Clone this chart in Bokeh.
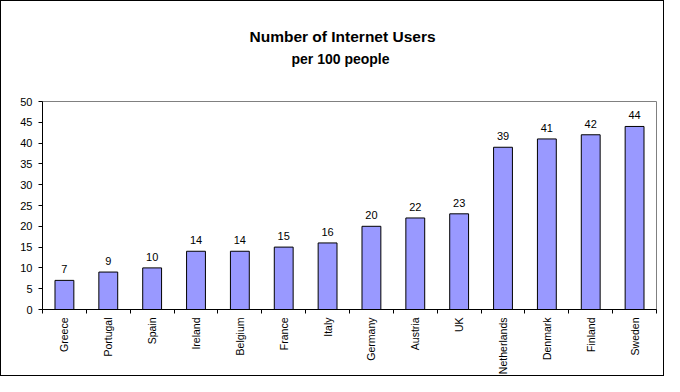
import math
from bokeh.plotting import figure
from bokeh.models import ColumnDataSource, FixedTicker, Range1d, Title, LinearAxis
from bokeh.core.properties import value
from bokeh.embed import file_html
from bokeh.resources import INLINE

countries = ["Greece", "Portugal", "Spain", "Ireland", "Belgium", "France", "Italy",
             "Germany", "Austria", "UK", "Netherlands", "Denmark", "Finland", "Sweden"]
users = [7, 9, 10, 14, 14, 15, 16, 20, 22, 23, 39, 41, 42, 44]
y_ticks = list(range(0, 55, 5))
title_text = "Number of Internet Users"
subtitle_text = "per 100 people"

FONT = "Liberation Sans"
n = len(countries)
centers = [i + 0.5 for i in range(n)]

src = ColumnDataSource(dict(x=centers, top=users, label=[str(v) for v in users]))

p = figure(width=664, height=376, output_backend="svg", toolbar_location=None,
           x_range=Range1d(0, n), y_range=Range1d(0, 50), title=None,
           min_border_left=41, min_border_right=9, min_border_top=100,
           min_border_bottom=66, x_axis_type=None, y_axis_type=None)
p.styles = {"border": "1px solid black", "box-sizing": "border-box"}
p.outline_line_color = "#808080"
p.outline_line_width = 1
p.background_fill_color = "white"
p.border_fill_color = "white"

# spacer between plot area and subtitle
p.add_layout(Title(text=" ", text_font=FONT, text_font_size="10px", standoff=18), "above")
p.add_layout(Title(text=subtitle_text, align="left", offset=249, text_font=FONT,
                   text_font_size="14px", text_font_style="bold",
                   text_color="black", standoff=8), "above")
p.add_layout(Title(text=title_text, align="left", offset=207, text_font=FONT,
                   text_font_size="15.5px", text_font_style="bold",
                   text_color="black", standoff=0), "above")

# y axis
yaxis = LinearAxis(ticker=FixedTicker(ticks=y_ticks))
yaxis.major_tick_in = 0
yaxis.major_tick_out = 4
yaxis.minor_tick_line_color = None
yaxis.major_label_text_font = FONT
yaxis.major_label_text_font_size = "11px"
yaxis.major_label_text_color = "black"
yaxis.major_label_standoff = 6
yaxis.axis_line_color = "black"
yaxis.major_tick_line_color = "black"
p.add_layout(yaxis, "left")

# x axis: labels at centres, ticks at category boundaries
xaxis = LinearAxis(ticker=FixedTicker(ticks=centers, minor_ticks=list(range(n + 1))))
xaxis.major_label_overrides = {c: name for c, name in zip(centers, countries)}
xaxis.major_tick_in = 0
xaxis.major_tick_out = 0
xaxis.major_tick_line_color = None
xaxis.minor_tick_in = 0
xaxis.minor_tick_out = 4
xaxis.minor_tick_line_color = "black"
xaxis.axis_line_color = "black"
xaxis.major_label_orientation = math.pi / 2
xaxis.major_label_text_font = FONT
xaxis.major_label_text_font_size = "10.5px"
xaxis.major_label_text_color = "black"
xaxis.major_label_standoff = 4
p.add_layout(xaxis, "below")

p.xgrid.visible = False
p.ygrid.ticker = FixedTicker(ticks=y_ticks[1:-1])
p.ygrid.grid_line_color = "black"
p.ygrid.grid_line_width = 1

p.vbar(x="x", top="top", width=0.43, source=src, fill_color="#9999FF",
       line_color="black", line_width=1)
p.text(x="x", y="top", text="label", source=src, text_align="center",
       text_baseline="bottom", y_offset=-7, text_font=value(FONT),
       text_font_size="11px", text_color="black")

with open("out.html", "w") as f:
    f.write(file_html(p, INLINE))
